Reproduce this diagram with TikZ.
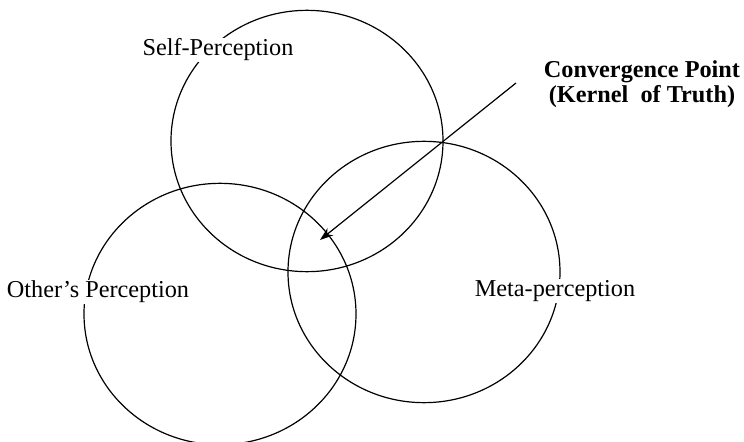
\documentclass[tikz,border=0pt]{standalone}
\usepackage{fontspec}
\setmainfont{Liberation Serif}
\usepackage{tikz}
\usetikzlibrary{shapes,arrows.meta}
\tikzstyle{circ} =
  [draw, ellipse, line width=0.9pt, inner sep=0pt,
   minimum width=204pt, minimum height=196pt]
\tikzstyle{lbl} =
  [fill=white, inner sep=1pt, font=\fontsize{18.2}{22}\selectfont]
\tikzstyle{arrow}=[draw,-{Stealth[length=10pt,width=7pt]},line width=0.9pt]

\begin{document}
\begin{tikzpicture}[x=0.75pt, y=-0.75pt]
  \useasboundingbox (0,0) rectangle (744,442);

  \node [circ] (self) at (307,141) {};
  \node [circ] (other) at (220,314) {};
  \node [circ] (meta) at (424,272) {};

  \node [lbl] (sp) at (218,50) {Self-Perception};
  \node [lbl] (op) at (98,292) {Other's Perception};
  \node [lbl] (mp) at (555,291) {Meta-perception};
  \node [align=center, inner sep=1pt, font=\bfseries\fontsize{18.2}{19}\selectfont]
    (cp) at (642,84) {Convergence Point\\(Kernel\ \ of Truth)};

  \coordinate (start) at (516,83);
  \coordinate (kernel) at (320,240);
  \draw [arrow] (start) to (kernel);

\end{tikzpicture}
\end{document}
